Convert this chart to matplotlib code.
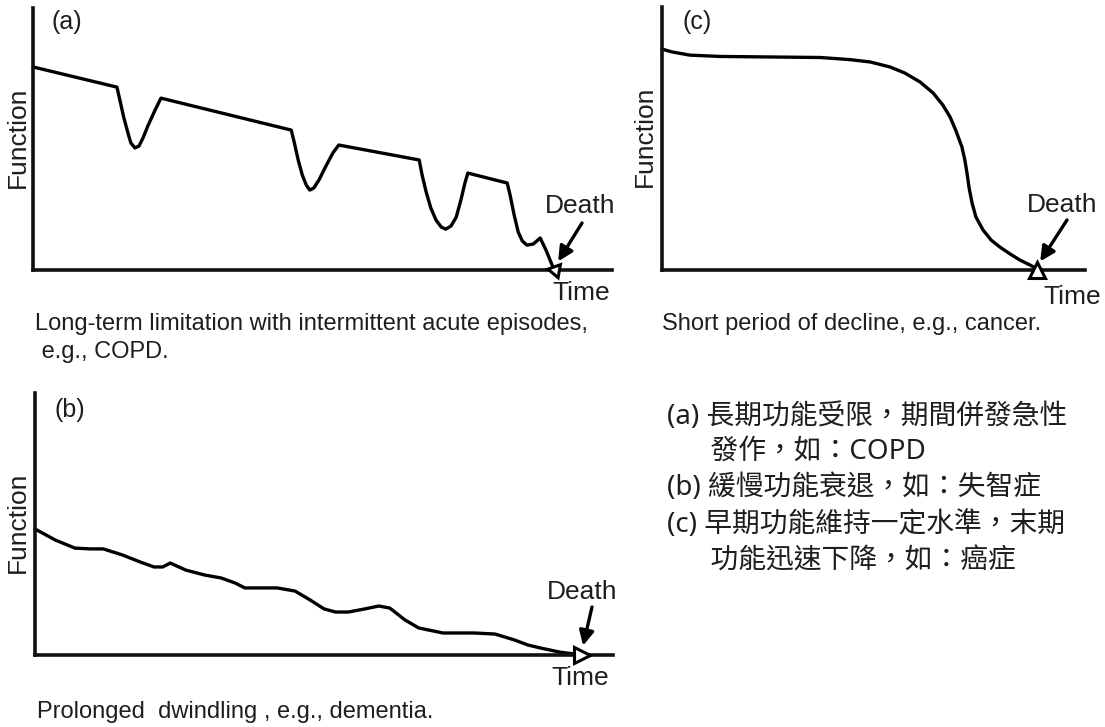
import matplotlib
matplotlib.use("Agg")
import matplotlib.pyplot as plt

W, H = 1105, 727

# (a) long-term limitation with intermittent acute episodes
time_a = [0, 14.5, 15.0, 15.7, 16.4, 16.9, 17.6, 18.3, 19.0, 19.9, 21.1, 22.1,
          44.6, 45.1, 45.8, 46.5, 47.2, 47.8, 48.5, 49.4, 50.6, 51.8, 52.8,
          66.7, 67.2, 67.9, 68.7, 69.6, 70.5, 71.3, 72.2, 73.1, 73.9, 74.6, 75.1,
          81.9, 82.4, 83.1, 83.8, 84.5, 85.3, 86.4, 87.6, 88.6, 89.8, 90.2]
func_a = [77.5, 69.8, 64.9, 58.0, 52.3, 48.5, 46.6, 47.3, 50.4, 55.3, 61.1, 65.6,
          53.4, 48.9, 42.0, 36.3, 32.4, 30.5, 31.3, 34.4, 39.7, 44.7, 47.7,
          42.0, 36.3, 29.8, 23.7, 19.1, 16.4, 15.6, 16.8, 20.2, 26.7, 33.2, 37.0,
          33.2, 28.6, 21.0, 14.5, 11.1, 9.5, 9.9, 12.2, 7.6, 1.1, 0]

# (b) prolonged dwindling
time_b = [0, 3.5, 6.9, 9.5, 11.8, 15.1, 18.2, 20.6, 22.1, 23.4, 26.1, 29.4, 32.2, 34.6, 36.3,
          41.9, 45.0, 47.6, 50.0, 52.0, 54.2, 57.1, 59.5, 61.4, 64.0, 66.4, 70.6, 76.0, 79.6,
          83.0, 85.3, 87.4, 90.8, 94.6]
func_b = [48.1, 43.9, 40.8, 40.5, 40.5, 38.2, 35.5, 33.6, 33.6, 35.1, 32.4, 30.5, 29.4, 27.5, 25.6,
          25.6, 24.4, 21.0, 17.6, 16.4, 16.4, 17.6, 18.7, 17.9, 13.4, 10.3, 8.4, 8.4, 8.0,
          5.7, 3.8, 2.7, 1.1, 0]

# (c) short period of decline
time_c = [0, 2.4, 6.6, 13.7, 25.5, 37.4, 44.4, 49.2, 53.9, 57.4, 61.0, 64.1, 66.4, 68.1, 69.5,
          70.9, 71.6, 72.1, 72.6, 73.3, 74.2, 75.9, 77.8, 79.9, 82.3, 84.6, 87.0, 88.7]
func_c = [84.0, 82.9, 81.7, 81.2, 81.0, 80.8, 80.0, 79.1, 77.2, 74.9, 71.5, 67.3, 62.7, 58.2, 52.9,
          46.8, 41.8, 36.9, 31.2, 25.5, 20.2, 15.2, 11.4, 8.7, 6.1, 3.8, 1.9, 0.4]

captions = ["Long-term limitation with intermittent acute episodes,\n e.g., COPD.",
            "Prolonged  dwindling , e.g., dementia.",
            "Short period of decline, e.g., cancer."]
notes = ["(a) 長期功能受限，期間併發急性",
         "      發作，如：COPD",
         "(b) 緩慢功能衰退，如：失智症",
         "(c) 早期功能維持一定水準，末期",
         "      功能迅速下降，如：癌症"]

SANS = ["Liberation Sans", "DejaVu Sans"]
CJK = ["Noto Sans", "Noto Sans CJK TC", "DejaVu Sans"]
INK = "#1e1e1e"


def fx(x, y):
    return x / W, 1 - y / H


def make_axes(fig, left, right, top, bottom):
    ax = fig.add_axes([left / W, 1 - bottom / H, (right - left) / W, (bottom - top) / H])
    ax.set_xlim(0, 100)
    ax.set_ylim(0, 100)
    for s in ["top", "right"]:
        ax.spines[s].set_visible(False)
    for s in ["left", "bottom"]:
        ax.spines[s].set_linewidth(2.6)
        ax.spines[s].set_color("#111111")
    ax.set_xticks([])
    ax.set_yticks([])
    ax.patch.set_alpha(0)
    return ax


fig = plt.figure(figsize=(W / 100, H / 100), dpi=100)

panels = [
    dict(t=time_a, f=func_a, box=(33, 612, 8, 270), tag="(a)", tag_xy=(67, 22),
         fn_xy=(18, 137), death=(580, 206), arrow_from=(582, 223), marker=(3, 0, 200),
         time_xy=(581, 293), cap=captions[0], cap_xy=(35, 313)),
    dict(t=time_b, f=func_b, box=(35, 613, 393, 655), tag="(b)", tag_xy=(70, 410),
         fn_xy=(18, 522), death=(582, 592), arrow_from=(592, 607), marker=">",
         time_xy=(580, 678), cap=captions[1], cap_xy=(37, 701)),
    dict(t=time_c, f=func_c, box=(662, 1085, 7, 270), tag="(c)", tag_xy=(697, 22),
         fn_xy=(645, 136), death=(1062, 205), arrow_from=(1067, 220), marker="^",
         time_xy=(1072, 297), cap=captions[2], cap_xy=(662, 313)),
]

for p in panels:
    ax = make_axes(fig, *p["box"])
    ax.plot(p["t"], p["f"], color="black", lw=2.4, clip_on=False, solid_joinstyle="round",
            solid_capstyle="round")
    ax.plot(p["t"][-1], 0, marker=p["marker"], ms=11, mfc="white", mec="black", mew=2.2,
            clip_on=False, zorder=6)
    ax.annotate("", xy=(p["t"][-1], 1.5), xycoords="data",
                xytext=fx(*p["arrow_from"]), textcoords="figure fraction",
                arrowprops=dict(arrowstyle="-|>", color="black", lw=2.4,
                                mutation_scale=22, shrinkA=0, shrinkB=4))
    fig.text(*fx(*p["tag_xy"]), p["tag"], family=SANS, fontsize=18, ha="center", va="center",
             color=INK)
    fig.text(*fx(*p["fn_xy"]), "Function", family=SANS, fontsize=19, rotation=90,
             ha="center", va="center", color=INK)
    fig.text(*fx(*p["death"]), "Death", family=SANS, fontsize=19, ha="center", va="center",
             color=INK)
    fig.text(*fx(*p["time_xy"]), "Time", family=SANS, fontsize=19, ha="center", va="center",
             color=INK)
    fig.text(*fx(*p["cap_xy"]), p["cap"], family=SANS, fontsize=17, ha="left", va="top",
             color=INK, linespacing=1.35)

note_y = [417, 452, 488, 525, 562]
for line, y in zip(notes, note_y):
    fig.text(*fx(667, y), line, family=CJK, fontsize=20, ha="left", va="center", color=INK)

fig.savefig("out.png", dpi=100)
